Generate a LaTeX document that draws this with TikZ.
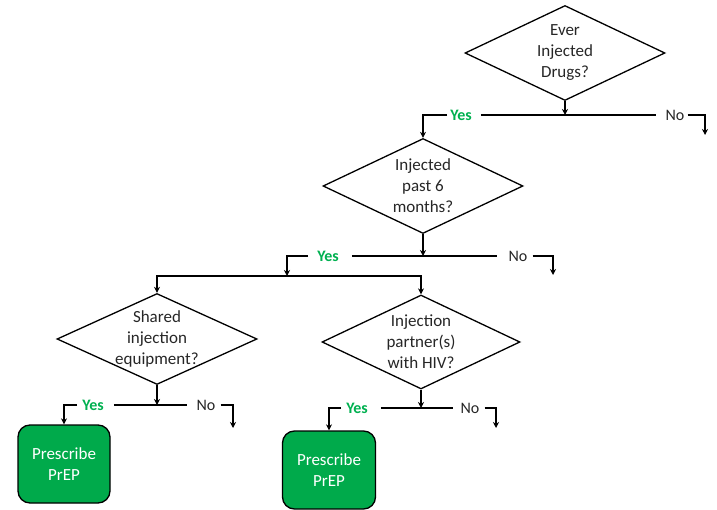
\documentclass[tikz,border=0pt]{standalone}
\usepackage{fontspec}
\setmainfont{Carlito}
\usepackage{xcolor}
\usetikzlibrary{shapes.geometric,arrows.meta}
\definecolor{yesgreen}{RGB}{0,176,80}
\definecolor{boxgreen}{RGB}{0,170,75}

\begin{document}
\begin{tikzpicture}[x=1pt,y=1pt,yscale=-1,xscale=1,
    dia/.style={diamond,draw,line width=1.3pt,minimum width=200pt,minimum height=95pt,inner sep=0pt},
    qtext/.style={align=center,text=black!85,font=\fontsize{17}{21}\selectfont,inner sep=0pt},
    yeslbl/.style={text=yesgreen,font=\fontsize{16}{19}\selectfont\bfseries,inner sep=2pt},
    nolbl/.style={text=black!85,font=\fontsize{16}{19}\selectfont,inner sep=2pt},
    rx/.style={draw,line width=1.3pt,fill=boxgreen,rounded corners=12pt,minimum width=92pt,minimum height=78pt,align=center,text=white,font=\fontsize{17}{21}\selectfont},
    arr/.style={line width=1.3pt,-{Stealth[length=6pt,width=6pt]}},
    ln/.style={line width=1.3pt}]
\useasboundingbox (0,0) rectangle (717,510);

% questions
\node [dia] (q1) at (565,53) {};
\node [qtext] (q1t) at (565,53) {Ever\\Injected\\Drugs?};
\node [dia] (q2) at (423,186) {};
\node [qtext] (q2t) at (423,186) {Injected\\past 6\\months?};
\node [dia,minimum height=91pt] (q3) at (157,339) {};
\node [qtext] (q3t) at (157,339) {Shared\\injection\\equipment?};
\node [dia,minimum width=198pt,minimum height=94pt] (q4) at (421,342) {};
\node [qtext] (q4t) at (421,342) {Injection\\partner(s)\\with HIV?};

% outcomes
\node [rx] (b1) at (64,464) {Prescribe\\PrEP};
\node [rx,minimum width=93pt] (b2) at (329,470) {Prescribe\\PrEP};

% answers
\node [yeslbl] (y1) at (461,115) {Yes};
\node [nolbl] (n1) at (675,115) {No};
\node [yeslbl] (y2) at (328,256) {Yes};
\node [nolbl] (n2) at (518,256) {No};
\node [yeslbl] (y3) at (93,405) {Yes};
\node [nolbl] (n3) at (206,405) {No};
\node [yeslbl] (y4) at (357,408) {Yes};
\node [nolbl] (n4) at (470,408) {No};

\coordinate (e1) at (705,135);
\coordinate (e2) at (553,275);
\coordinate (e3) at (233,428);
\coordinate (e4) at (496,428);
\coordinate (j1) at (287,276);

% ever injected
\draw [ln,shorten <=7pt,shorten >=7pt] (y1.east) -- (n1.west);
\draw [arr] (q1.south) -- (q1.south |- y1.east);
\draw [arr,shorten <=1pt] (y1.west) -| (q2.north);
\draw [arr,shorten <=1pt] (n1.east) -| (e1);

% injected past 6 months
\draw [ln,shorten <=11pt,shorten >=9pt] (y2.east) -- (n2.west);
\draw [arr] (q2.south) -- (q2.south |- y2.east);
\draw [arr,shorten <=7pt] (y2.west) -| (j1);
\draw [arr,shorten <=3pt] (n2.east) -| (e2);
\draw [arr] (j1) -| (q3.north);
\draw [arr] (j1) -| (q4.north);

% shared equipment
\draw [ln,shorten <=8pt,shorten >=7pt] (y3.east) -- (n3.west);
\draw [arr] (q3.south) -- (q3.south |- y3.east);
\draw [arr,shorten <=3pt] (y3.west) -| (b1.north);
\draw [arr,shorten <=3pt] (n3.east) -| (e3);

% partners with hiv
\draw [ln,shorten <=11pt,shorten >=5pt] (y4.east) -- (n4.west);
\draw [arr] (q4.south) -- (q4.south |- y4.east);
\draw [arr,shorten <=3pt] (y4.west) -| (b2.north);
\draw [arr,shorten <=3pt] (n4.east) -| (e4);
\end{tikzpicture}
\end{document}
